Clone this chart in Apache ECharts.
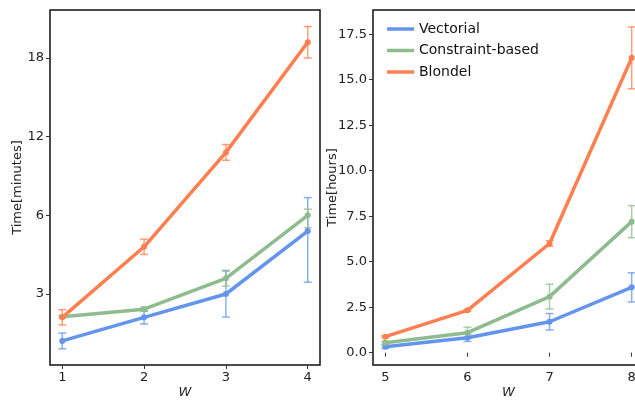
<!DOCTYPE html>
<html><head><meta charset="utf-8">
<script src="https://cdn.jsdelivr.net/npm/echarts@6/dist/echarts.min.js"></script>
<style>html,body{margin:0;padding:0;background:#fff}#c{width:635px;height:401px}</style>
</head><body><div id="c"></div>
<script>
// ---- data ----
const seriesNames = ['Vectorial', 'Constraint-based', 'Blondel'];
const colors = ['#6495ED', '#8FBC8F', '#FF7F50'];

// left panel: Time[minutes] vs W
const wLeft = [1, 2, 3, 4];
const leftVectorial = [1.21, 2.11, 3.0, 5.4];
const leftConstraint = [2.13, 2.42, 3.6, 6.0];
const leftBlondel = [2.11, 4.8, 10.8, 19.2];
const leftVectorialErr = [0.3, 0.25, 0.88, 1.95];
const leftConstraintErr = [0.05, 0.08, 0.3, 0.47];
const leftBlondelErr = [0.29, 0.29, 0.6, 1.2];
const leftTickLabels = [3, 6, 12, 18];

// right panel: Time[hours] vs W
const wRight = [5, 6, 7, 8];
const rightVectorial = [0.33, 0.82, 1.70, 3.59];
const rightConstraint = [0.55, 1.10, 3.08, 7.2];
const rightBlondel = [0.88, 2.33, 6.0, 16.2];
const rightVectorialErr = [0.1, 0.2, 0.45, 0.8];
const rightConstraintErr = [0.08, 0.3, 0.68, 0.88];
const rightBlondelErr = [0.05, 0.05, 0.15, 1.7];
const rightTickLabels = [0, 2.5, 5, 7.5, 10, 12.5, 15, 17.5];

// left y-axis scale: tick values 3,6,12,18 placed evenly (piecewise linear)
const scaleKnots = [0, 3, 6, 12, 18, 24];
function leftScale(v) {
  for (let i = 0; i < scaleKnots.length - 1; i++) {
    const a = scaleKnots[i], b = scaleKnots[i + 1];
    if (v <= b || i === scaleKnots.length - 2) return i + (v - a) / (b - a);
  }
}

const font = '"DejaVu Sans", sans-serif';
const chart = echarts.init(document.getElementById('c'));

function errSeries(xi, yi, xs, ys, errs, color, name, scale) {
  const data = xs.map((x, i) => [x, scale(ys[i] - errs[i]), scale(ys[i] + errs[i])]);
  return {
    type: 'custom', name: name, xAxisIndex: xi, yAxisIndex: yi, z: 3,
    data: data, silent: true, itemStyle: { color: color },
    encode: { x: 0, y: [1, 2] },
    renderItem: function (params, api) {
      const lo = api.coord([api.value(0), api.value(1)]);
      const hi = api.coord([api.value(0), api.value(2)]);
      const w = 4;
      const st = { stroke: color, lineWidth: 1.5, opacity: 0.75 };
      return { type: 'group', children: [
        { type: 'line', shape: { x1: lo[0], y1: lo[1], x2: hi[0], y2: hi[1] }, style: st },
        { type: 'line', shape: { x1: lo[0] - w, y1: lo[1], x2: lo[0] + w, y2: lo[1] }, style: st },
        { type: 'line', shape: { x1: hi[0] - w, y1: hi[1], x2: hi[0] + w, y2: hi[1] }, style: st }
      ]};
    }
  };
}
function lineSeries(xi, yi, xs, ys, color, name, scale) {
  return {
    type: 'line', name: name, xAxisIndex: xi, yAxisIndex: yi, z: 4,
    data: xs.map((x, i) => [x, scale(ys[i])]),
    symbol: 'circle', symbolSize: 6, showSymbol: true,
    lineStyle: { color: color, width: 3.5 }, itemStyle: { color: color },
    emphasis: { disabled: true }, animation: false
  };
}
const id = v => v;

const leftData = [leftVectorial, leftConstraint, leftBlondel];
const leftErr = [leftVectorialErr, leftConstraintErr, leftBlondelErr];
const rightData = [rightVectorial, rightConstraint, rightBlondel];
const rightErr = [rightVectorialErr, rightConstraintErr, rightBlondelErr];

const series = [];
for (let k = 0; k < 3; k++) {
  series.push(lineSeries(1, 1, wRight, rightData[k], colors[k], seriesNames[k], id));
}
for (let k = 0; k < 3; k++) {
  series.push(errSeries(0, 0, wLeft, leftData[k], leftErr[k], colors[k], seriesNames[k], leftScale));
  series.push(lineSeries(0, 0, wLeft, leftData[k], colors[k], seriesNames[k], leftScale));
  series.push(errSeries(1, 1, wRight, rightData[k], rightErr[k], colors[k], seriesNames[k], id));
}

const axisCommonX = {
  type: 'value', axisLine: { show: false }, splitLine: { show: false },
  axisTick: { show: true, length: 4, inside: false, lineStyle: { color: '#333' } },
  axisLabel: { color: '#222', fontSize: 13, fontFamily: font, margin: 6 },
  nameLocation: 'middle', nameGap: 21, nameMoveOverlap: false,
  nameTextStyle: { fontStyle: 'italic', fontSize: 13, color: '#222', fontFamily: font }
};
const axisCommonY = {
  type: 'value', axisLine: { show: false }, splitLine: { show: false },
  axisTick: { show: true, length: 4, inside: false, lineStyle: { color: '#333' } },
  axisLabel: { color: '#222', fontSize: 13, fontFamily: font, margin: 6 },
  nameLocation: 'middle', nameMoveOverlap: false,
  nameTextStyle: { fontSize: 13, color: '#222', fontFamily: font }
};

chart.setOption({
  animation: false,
  color: colors,
  grid: [
    { left: 50, top: 10, width: 270, height: 355, show: true, borderColor: '#111', borderWidth: 1.5, backgroundColor: 'transparent', outerBoundsMode: 'none', containLabel: false },
    { left: 373, top: 10, width: 271, height: 355, show: true, borderColor: '#111', borderWidth: 1.5, backgroundColor: 'transparent', outerBoundsMode: 'none', containLabel: false }
  ],
  legend: {
    data: seriesNames.map((n, k) => ({ name: n, icon: 'rect', itemStyle: { color: colors[k] } })),
    orient: 'vertical', left: 382, top: 17, itemWidth: 27, itemHeight: 3.5, itemGap: 7.5,
    textStyle: { fontSize: 14, color: '#111', fontFamily: font }, selectedMode: false
  },
  xAxis: [
    Object.assign({}, axisCommonX, { gridIndex: 0, min: 0.85, max: 4.15, name: 'W',
      axisTick: Object.assign({}, axisCommonX.axisTick, { customValues: wLeft }),
      axisLabel: Object.assign({}, axisCommonX.axisLabel, { customValues: wLeft }) }),
    Object.assign({}, axisCommonX, { gridIndex: 1, min: 4.85, max: 8.15, name: 'W',
      axisTick: Object.assign({}, axisCommonX.axisTick, { customValues: wRight }),
      axisLabel: Object.assign({}, axisCommonX.axisLabel, { customValues: wRight }) })
  ],
  yAxis: [
    Object.assign({}, axisCommonY, { gridIndex: 0, min: 0.0975, max: 4.61, name: 'Time[minutes]', nameGap: 26,
      axisTick: Object.assign({}, axisCommonY.axisTick, { customValues: leftTickLabels.map(leftScale) }),
      axisLabel: Object.assign({}, axisCommonY.axisLabel, { customValues: leftTickLabels.map(leftScale),
        formatter: v => { const i = leftTickLabels.findIndex(t => Math.abs(leftScale(t) - v) < 1e-6); return i >= 0 ? String(leftTickLabels[i]) : ''; } }) }),
    Object.assign({}, axisCommonY, { gridIndex: 1, min: -0.676, max: 18.83, name: 'Time[hours]', nameGap: 34,
      axisTick: Object.assign({}, axisCommonY.axisTick, { customValues: rightTickLabels }),
      axisLabel: Object.assign({}, axisCommonY.axisLabel, { customValues: rightTickLabels, formatter: v => v.toFixed(1) }) })
  ],
  series: series
});
</script></body></html>
